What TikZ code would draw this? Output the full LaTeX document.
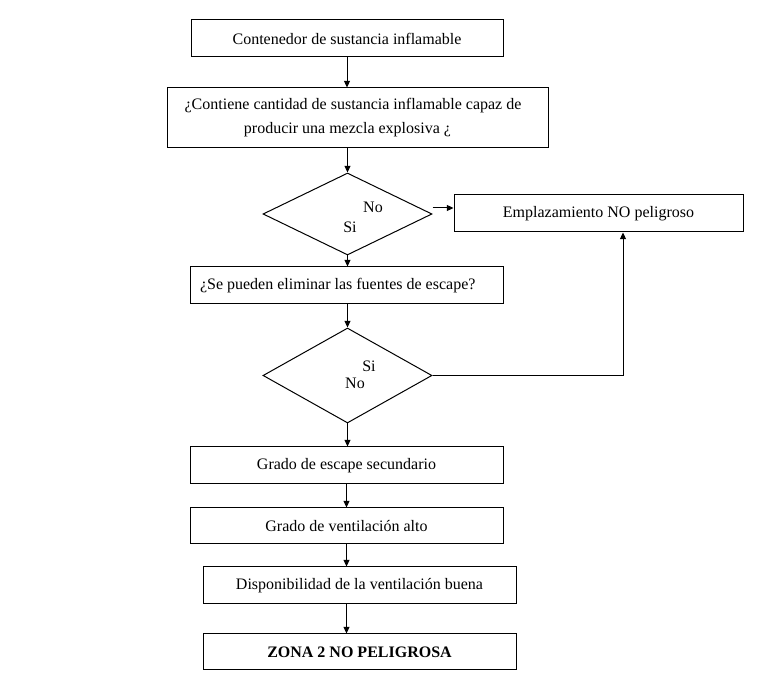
\documentclass[tikz,border=0pt]{standalone}
\usepackage{fontspec}
\setmainfont{Liberation Serif}
\usetikzlibrary{arrows.meta,shapes.geometric}
\begin{document}
\begin{tikzpicture}[x=0.75pt,y=-0.75pt,
  box/.style={draw,line width=0.75pt,rectangle,inner sep=0pt,font=\fontsize{12}{14.4}\selectfont},
  sz/.style 2 args={minimum width={#1*0.75pt},minimum height={#2*0.75pt}},
  dia/.style={draw,line width=0.75pt,diamond,inner sep=0pt,minimum width={169*0.75pt},minimum height={82*0.75pt}},
  lbl/.style={inner sep=0pt,font=\fontsize{12}{14.4}\selectfont},
  arr/.style={line width=0.75pt,-{Triangle[length=5pt,width=4.5pt]}},
  ln/.style={line width=0.75pt}]
\useasboundingbox (0,0) rectangle (783,680);
\node[box,sz={312}{37}] (b1) at (347,38.5) {Contenedor de sustancia inflamable};
\node[box,sz={381}{60},align=center,font=\fontsize{12}{18}\selectfont] (b2) at (357.5,118) {¿Contiene cantidad de sustancia inflamable capaz de\hspace*{6.75pt}\mbox{}\\producir una mezcla explosiva ¿\hspace*{15pt}\mbox{}};
\node[dia] (d1) at (347.5,214) {};
\node[lbl] (d1no) at (373,207) {No};
\node[lbl] (d1si) at (350,227) {Si};
\node[box,sz={289}{37}] (e) at (598.5,213.5) {Emplazamiento NO peligroso};
\node[box,sz={313}{37},inner xsep=7.5pt] (b3) at (346.5,285.5) {\makebox[219.75pt][l]{¿Se pueden eliminar las fuentes de escape?}};
\node[dia,minimum height={95*0.75pt}] (d2) at (347.5,375.5) {};
\node[lbl] (d2si) at (369,366) {Si};
\node[lbl] (d2no) at (355,383) {No};
\node[box,sz={313}{37}] (b4) at (346.5,465.5) {Grado de escape secundario};
\node[box,sz={313}{36}] (b5) at (346.5,526) {Grado de ventilación alto};
\node[box,sz={313}{37}] (b6) at (359.5,585.5) {Disponibilidad de la ventilación buena};
\node[box,sz={313}{36},font=\fontsize{12}{14.4}\selectfont\bfseries] (b7) at (359.5,652) {ZONA 2 NO PELIGROSA};
\coordinate (up) at (623,0);
\draw[arr] (b1.south) -- (b1.south |- b2.north);
\draw[arr] (d1.north |- b2.south) -- (d1.north);
\draw[arr] ([yshift=4.5pt]d1.east) -- ([yshift=4.5pt]d1.east -| e.west);
\draw[arr] (d1.south) -- (d1.south |- b3.north);
\draw[arr] (d2.north |- b3.south) -- (d2.north);
\draw[arr] (d2.south) -- (d2.south |- b4.north);
\draw[arr] (d2.east) -| (up |- e.south);
\draw[arr] (b4.south) -- (b4.south |- b5.north);
\draw[arr] (b5.south) -- (b5.south |- b6.north);
\draw[arr] (b5.south |- b6.south) -- (b5.south |- b7.north);
\end{tikzpicture}
\end{document}
